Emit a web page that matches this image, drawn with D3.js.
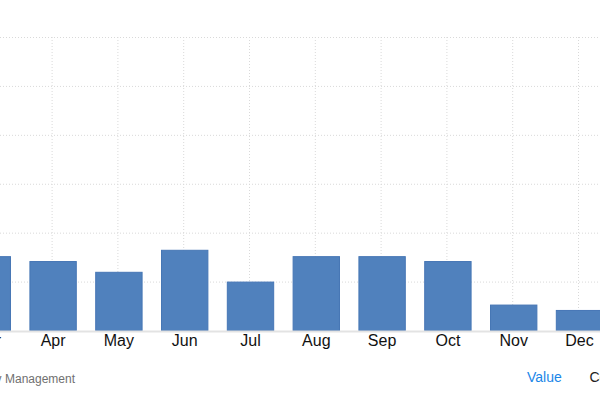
<!DOCTYPE html>
<html>
<head>
<meta charset="utf-8">
<script src="https://cdn.jsdelivr.net/npm/d3@7/dist/d3.min.js"></script>
<style>
  html, body { margin: 0; padding: 0; background: #fff; overflow: hidden; }
  svg { display: block; font-family: "Liberation Sans", Arial, Helvetica, sans-serif; }
</style>
</head>
<body>
<svg id="chart" width="600" height="400"></svg>
<script>
const months = ["Mar", "Apr", "May", "Jun", "Jul", "Aug", "Sep", "Oct", "Nov", "Dec"];
const values = [1.52, 1.42, 1.20, 1.65, 1.00, 1.52, 1.52, 1.42, 0.53, 0.42];
const yTicks = [1, 2, 3, 4, 5, 6];
const sourceText = "Source: Institute for Supply Management";
const legendItems = ["Value", "Consensus"];

const W = 600, H = 400;
const svg = d3.select("#chart");

const x = d3.scaleBand()
  .domain(months)
  .range([-45.6, 612.4])
  .paddingInner(0.28)
  .paddingOuter(0.14);

const y = d3.scaleLinear().domain([0, 6]).range([330.5, 37]);

// horizontal grid
const yAxis = d3.axisLeft(y).tickValues(yTicks).tickSize(-W).tickFormat("");
const gy = svg.append("g").attr("transform", `translate(${W},0)`).call(yAxis);
gy.select(".domain").remove();
gy.selectAll(".tick line")
  .attr("x1", -W).attr("x2", 0)
  .attr("stroke", "#d9d9d9").attr("stroke-dasharray", "1,2");

// vertical grid
svg.append("g").selectAll("line").data(months).join("line")
  .attr("x1", d => x(d) + x.bandwidth() / 2 - 1)
  .attr("x2", d => x(d) + x.bandwidth() / 2 - 1)
  .attr("y1", y(6)).attr("y2", y(0))
  .attr("stroke", "#d9d9d9").attr("stroke-dasharray", "1,2");

// bars
svg.append("g").selectAll("rect").data(months).join("rect")
  .attr("x", d => x(d) + 0.5)
  .attr("width", x.bandwidth() - 1)
  .attr("y", (d, i) => y(values[i]) + 0.5)
  .attr("height", (d, i) => y(0) - y(values[i]) - 0.5)
  .attr("fill", "#5081bd")
  .attr("stroke", "#4676b5")
  .attr("stroke-width", 1);

// baseline
svg.append("line")
  .attr("x1", 0).attr("x2", W)
  .attr("y1", y(0) + 1).attr("y2", y(0) + 1)
  .attr("stroke", "#e3e3e3").attr("stroke-width", 2);

// x axis labels
const xAxis = d3.axisBottom(x).tickSize(0).tickPadding(0);
const gx = svg.append("g").attr("transform", `translate(0,${y(0)})`).call(xAxis);
gx.select(".domain").remove();
gx.selectAll(".tick text")
  .attr("y", 15.5)
  .attr("dy", null)
  .attr("font-size", 16)
  .attr("font-family", "'Liberation Sans', Arial, Helvetica, sans-serif")
  .attr("fill", "#111");

// source text
svg.append("text")
  .attr("x", 75).attr("y", 382.5)
  .attr("text-anchor", "end")
  .attr("font-size", 12)
  .attr("fill", "#707070")
  .text(sourceText);

// legend
svg.append("text")
  .attr("x", 527).attr("y", 382)
  .attr("font-size", 14)
  .attr("fill", "#1a86e8")
  .text(legendItems[0]);
svg.append("text")
  .attr("x", 589.5).attr("y", 382)
  .attr("font-size", 14)
  .attr("fill", "#222")
  .text(legendItems[1]);
</script>
</body>
</html>
